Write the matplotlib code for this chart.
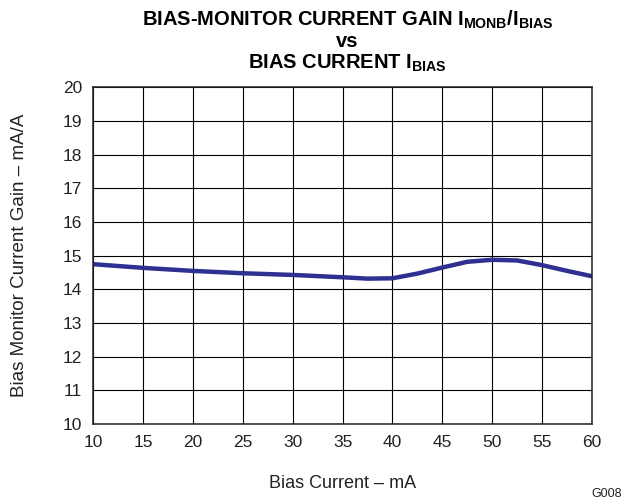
import matplotlib
matplotlib.use("Agg")
import matplotlib.pyplot as plt

plt.rcParams['font.family'] = ['Liberation Sans', 'DejaVu Sans']
plt.rcParams['mathtext.fontset'] = 'custom'
plt.rcParams['mathtext.rm'] = 'Liberation Sans'
plt.rcParams['mathtext.bf'] = 'Liberation Sans:bold'

bias_current = [10, 15, 20, 25, 30, 35, 37.5, 40, 42.5, 45, 47.5, 50, 52.5, 55, 57.5, 60]
gain = [14.75, 14.64, 14.55, 14.48, 14.43, 14.36, 14.32, 14.33, 14.47, 14.65, 14.82, 14.88, 14.86, 14.72, 14.55, 14.39]
x_ticks = [10, 15, 20, 25, 30, 35, 40, 45, 50, 55, 60]
y_ticks = list(range(10, 21))

fig = plt.figure(figsize=(6.29, 5.0), dpi=100)
ax = fig.add_axes([0.1479, 0.152, 0.7934, 0.673])
ax.plot(bias_current, gain, color='#2E3192', linewidth=3.2, solid_joinstyle='round', solid_capstyle='butt')
ax.set_xlim(10, 60)
ax.set_ylim(10, 20)
ax.set_xticks(x_ticks)
ax.set_yticks(y_ticks)
ax.grid(True, color='black', linewidth=0.8)
ax.tick_params(length=0, labelsize=12.5, colors='#222222')
ax.tick_params(axis='x', pad=8)
ax.tick_params(axis='y', pad=8)
for s in ax.spines.values():
    s.set_linewidth(1.1)
    s.set_color('#222222')
ax.set_xlabel('Bias Current – mA', fontsize=13, labelpad=18, color='#222222')
ax.set_ylabel('Bias Monitor Current Gain – mA/A', fontsize=13.5, labelpad=25, color='#222222')
tx = 0.552
fig.text(tx, 0.948, r'BIAS-MONITOR CURRENT GAIN I$_{\mathbf{MONB}}$/I$_{\mathbf{BIAS}}$',
         ha='center', va='baseline', fontsize=14.5, fontweight='bold')
fig.text(tx, 0.9053, 'vs', ha='center', va='baseline', fontsize=14.5, fontweight='bold')
fig.text(tx, 0.8633, r'BIAS CURRENT I$_{\mathbf{BIAS}}$', ha='center', va='baseline', fontsize=14.5, fontweight='bold')
fig.text(0.989, 0.006, 'G008', ha='right', va='baseline', fontsize=9, color='#222222')
fig.savefig('out.png', dpi=100)
